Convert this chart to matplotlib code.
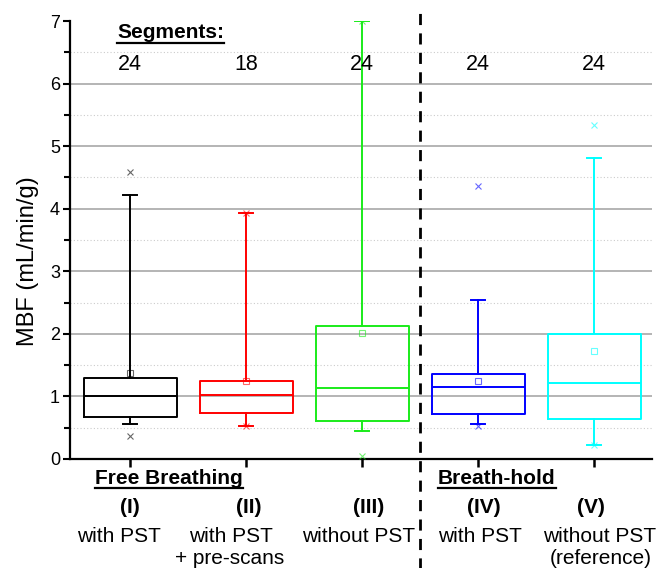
import matplotlib
matplotlib.use("Agg")
import matplotlib.pyplot as plt
from matplotlib.lines import Line2D
import matplotlib.transforms as mtransforms

plt.rcParams['font.family'] = ['Liberation Sans', 'DejaVu Sans']

# ---- data ----
roman = ["(I)", "(II)", "(III)", "(IV)", "(V)"]
desc1 = ["with PST", "with PST", "without PST", "with PST", "without PST"]
desc2 = ["", "+ pre-scans", "", "", "(reference)"]
segments = [24, 18, 24, 24, 24]
colors = ["#000000", "#ff0000", "#1aeb1a", "#0000ff", "#00ffff"]
q1 = [0.67, 0.74, 0.61, 0.72, 0.64]
med = [1.01, 1.03, 1.14, 1.15, 1.21]
q3 = [1.29, 1.25, 2.13, 1.35, 2.00]
means = [1.37, 1.25, 2.02, 1.25, 1.73]
wlo = [0.56, 0.52, 0.44, 0.56, 0.23]
whi = [4.22, 3.93, 7.00, 2.54, 4.81]
xmax = [4.59, 3.93, 7.00, 4.36, 5.33]
xmin = [0.37, 0.52, 0.05, 0.52, 0.23]

# layout (label anchor positions, in category units)
roman_x = [1.0, 2.02, 3.06, 4.05, 4.97]
desc1_x = [0.905, 1.87, 2.965, 4.015, 5.05]
desc2_x = [None, 1.86, None, None, 5.06]

fig = plt.figure(figsize=(6.71, 5.68), dpi=100)
ax = fig.add_axes([0.104, 0.192, 0.868, 0.771])

positions = list(range(1, 6))
for i, p in enumerate(positions):
    c = colors[i]
    st = [dict(med=med[i], q1=q1[i], q3=q3[i], whislo=wlo[i], whishi=whi[i],
               mean=means[i], fliers=[xmin[i], xmax[i]])]
    ax.bxp(st, positions=[p], widths=0.8, capwidths=0.12, showmeans=True,
           showfliers=True, patch_artist=False,
           boxprops=dict(color=c, lw=1.4),
           medianprops=dict(color=c, lw=1.4),
           whiskerprops=dict(color=c, lw=1.4),
           capprops=dict(color=c, lw=1.4),
           meanprops=dict(marker='s', markersize=5, markerfacecolor='none',
                          markeredgecolor=c, markeredgewidth=0.8, alpha=0.6),
           flierprops=dict(marker='x', markersize=5, markeredgecolor=c,
                           markeredgewidth=0.8, alpha=0.6, linestyle='none'),
           zorder=3)

ax.set_xlim(0.48, 5.5)
ax.set_ylim(0, 7)
ax.set_yticks(range(0, 8))
ax.set_yticks([0.5 + k for k in range(7)], minor=True)
ax.set_xticks(positions)
ax.set_xticklabels([])
for y in range(1, 7):
    ax.axhline(y, color='#a8a8a8', lw=1.2, zorder=1)
for k in range(7):
    ax.axhline(0.5 + k, color='#cccccc', lw=0.8, ls=(0, (1, 2)), zorder=1)

for s in ['top', 'right']:
    ax.spines[s].set_visible(False)
for s in ['left', 'bottom']:
    ax.spines[s].set_linewidth(1.6)
ax.tick_params(axis='y', which='major', direction='out', length=5, width=1.5, labelsize=13, pad=2)
ax.tick_params(axis='y', which='minor', direction='out', length=4, width=1.5)
ax.tick_params(axis='x', which='major', direction='out', length=6, width=1.8)
ax.set_ylabel("MBF (mL/min/g)", fontsize=17)
ax.yaxis.set_label_coords(-0.052, 0.452)

# segments annotations
ax.text(0.89, 6.82, "Segments:", fontsize=15, fontweight='bold', ha='left', va='center')
ax.plot([0.89, 1.81], [6.65, 6.65], color='black', lw=1.6, clip_on=False)
for p, n in zip(positions, segments):
    ax.text(p, 6.3, str(n), fontsize=15.5, ha='center', va='center')

# dashed separator line
trans = mtransforms.blended_transform_factory(ax.transData, ax.transAxes)
ax.add_line(Line2D([3.5, 3.5], [-0.5, 1.03], transform=trans, color='black',
                   lw=2, ls=(0, (4, 3)), clip_on=False))

# bottom labels
ax.text(0.697, -0.044, "Free Breathing", transform=trans, fontsize=15, fontweight='bold',
        ha='left', va='center')
ax.add_line(Line2D([0.697, 1.975], [-0.066, -0.066], transform=trans, color='black', lw=1.6, clip_on=False))
ax.text(3.65, -0.044, "Breath-hold", transform=trans, fontsize=15, fontweight='bold',
        ha='left', va='center')
ax.add_line(Line2D([3.65, 4.67], [-0.066, -0.066], transform=trans, color='black', lw=1.6, clip_on=False))
for i in range(5):
    ax.text(roman_x[i], -0.11, roman[i], transform=trans, fontsize=15, fontweight='bold',
            ha='center', va='center')
    ax.text(desc1_x[i], -0.176, desc1[i], transform=trans, fontsize=15, ha='center', va='center')
    if desc2[i]:
        ax.text(desc2_x[i], -0.228, desc2[i], transform=trans, fontsize=15, ha='center', va='center')

fig.savefig("out.png", dpi=100)
